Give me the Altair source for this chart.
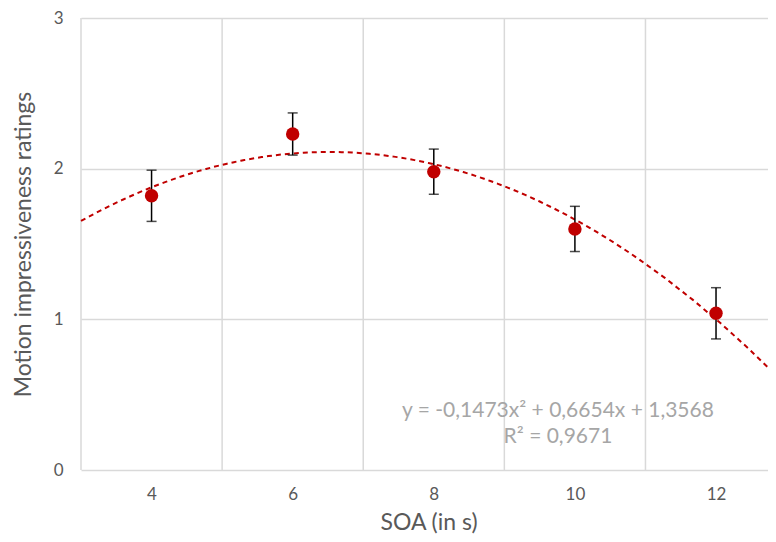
import altair as alt
import pandas as pd

soa = [4, 6, 8, 10, 12]
rating = [1.82, 2.23, 1.98, 1.60, 1.04]
err_low = [1.65, 2.09, 1.83, 1.45, 0.87]
err_high = [1.99, 2.37, 2.13, 1.75, 1.21]
x_grid = [3, 5, 7, 9, 11]
x_ticks = [4, 6, 8, 10, 12]
y_ticks = [0, 1, 2, 3]
equation = ["y = -0,1473x² + 0,6654x + 1,3568", "R² = 0,9671"]
y_title = "Motion impressiveness ratings"
x_title = "SOA (in s)"

df = pd.DataFrame({"soa": soa, "rating": rating, "lo": err_low, "hi": err_high})
grid_df = pd.DataFrame({"g": x_grid})

FONT = "Lato"
RED = "#c00000"
GRAY = "#595959"

xscale = alt.Scale(domain=[3, 12.85], nice=False, zero=False)
yscale = alt.Scale(domain=[0, 3], nice=False)

xaxis = alt.Axis(values=x_ticks, format="d", grid=False, domain=False, ticks=False,
                 labelPadding=16, labelFontSize=17, labelColor=GRAY, labelFont=FONT,
                 titleFontSize=23, titleFont=FONT, titleColor=GRAY,
                 titleFontWeight="normal", titleBaseline="alphabetic", titleY=59)
yaxis = alt.Axis(values=y_ticks, format="d", grid=True, gridColor="#d9d9d9", gridWidth=1.5,
                 domain=False, ticks=False, labelPadding=18, labelFontSize=17,
                 labelColor=GRAY, labelFont=FONT,
                 titleFontSize=23, titleFont=FONT,
                 titleColor=GRAY, titleFontWeight="normal", titleX=-46, titleY=226)

base = alt.Chart(df)

grid = alt.Chart(grid_df).mark_rule(color="#d9d9d9", strokeWidth=1.5).encode(
    x=alt.X("g:Q", scale=xscale, axis=xaxis, title=x_title)
)

points_axis = base.mark_point(opacity=0).encode(
    x=alt.X("soa:Q", scale=xscale, axis=xaxis, title=x_title),
    y=alt.Y("rating:Q", scale=yscale, axis=yaxis, title=y_title),
)

trend = base.transform_regression(
    "soa", "rating", method="poly", order=2, extent=[3, 12.85]
).mark_line(color=RED, strokeDash=[5, 4], strokeWidth=2).encode(
    x=alt.X("soa:Q", scale=xscale, title=x_title),
    y=alt.Y("rating:Q", scale=yscale, title=y_title),
)

errbars = base.mark_errorbar(
    color="black", thickness=1.5, ticks={"size": 10, "thickness": 1.5, "color": "black"}
).encode(
    x=alt.X("soa:Q", scale=xscale, title=x_title),
    y=alt.Y("lo:Q", scale=yscale, title=y_title),
    y2="hi:Q",
)

dots = base.mark_circle(color=RED, size=180, opacity=1).encode(
    x=alt.X("soa:Q", scale=xscale, title=x_title),
    y=alt.Y("rating:Q", scale=yscale, title=y_title),
)

label = alt.Chart(pd.DataFrame({"t": [equation]})).mark_text(
    font=FONT, fontSize=21, color="#a6a6a6", align="center", baseline="middle",
    lineHeight=26
).encode(
    x=alt.X(datum=9.76, scale=xscale, title=x_title),
    y=alt.Y(datum=0.39, scale=yscale, title=y_title),
    text="t",
)

chart = alt.layer(grid, points_axis, trend, errbars, dots, label).properties(
    width=695, height=452,
    autosize=alt.AutoSizeParams(type="none"),
    padding={"left": 73, "top": 10, "right": -8, "bottom": 64},
).configure_view(stroke=None)

chart.save("out.html", embed_options={"renderer": "svg", "actions": False})
